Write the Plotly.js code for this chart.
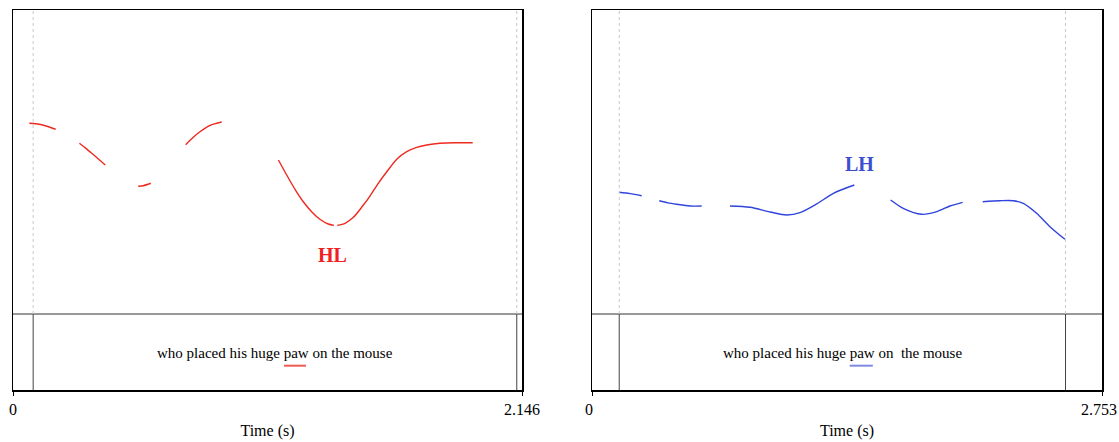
<!DOCTYPE html>
<html>
<head>
<meta charset="utf-8">
<script src="https://cdn.plot.ly/plotly-3.0.1.min.js"></script>
<style>html,body{margin:0;padding:0;background:#fff;}#chart{width:1119px;height:442px;}</style>
</head>
<body>
<div id="chart"></div>
<script>
// ---- Left utterance (HL), duration 2.146 s ----
const leftDuration = 2.146;
const leftBounds = [0.085, 2.124];
const leftSegT = [
  [0.069, 0.095, 0.121, 0.150, 0.180],
  [0.280, 0.305, 0.332, 0.360, 0.389],
  [0.528, 0.549, 0.581],
  [0.728, 0.760, 0.788, 0.831, 0.880],
  [1.119, 1.154, 1.189, 1.224, 1.259, 1.294, 1.329, 1.353],
  [1.367, 1.400, 1.435, 1.470, 1.505, 1.540, 1.576, 1.618, 1.660, 1.702, 1.744, 1.800, 1.871, 1.938]
];
const leftSegF = [
  [263.2, 262.7, 261.8, 259.8, 257.3],
  [243.5, 238.9, 233.6, 228.0, 222.0],
  [201.0, 201.6, 204.0],
  [242.1, 249.4, 254.9, 261.2, 264.5],
  [227.0, 212.2, 198.1, 185.8, 176.0, 168.5, 163.8, 162.5],
  [162.5, 164.5, 170.4, 180.3, 191.4, 204.0, 215.4, 227.7, 235.2, 239.5, 241.8, 243.5, 244.0, 244.0]
];
const leftLabel = "HL";
const leftLabelPos = [1.345, 133.5];
const leftSentence = "who placed his huge paw on the mouse";
const leftSentenceX = 1.105;
const leftUnderline = [1.143, 1.235];

// ---- Right utterance (LH), duration 2.753 s ----
const rightDuration = 2.753;
const rightBounds = [0.147, 2.556];
const rightSegT = [
  [0.147, 0.205, 0.268],
  [0.363, 0.410, 0.457, 0.529, 0.592],
  [0.745, 0.853, 0.961, 1.051, 1.123, 1.213, 1.303, 1.416],
  [1.612, 1.680, 1.780, 1.861, 1.932, 2.001],
  [2.109, 2.202, 2.274, 2.328, 2.400, 2.472, 2.553]
];
const rightSegF = [
  [195.1, 193.8, 191.7],
  [186.8, 184.7, 183.3, 181.6, 181.6],
  [181.6, 180.3, 175.7, 172.7, 175.0, 183.6, 194.1, 202.3],
  [187.5, 179.3, 173.4, 176.0, 181.6, 185.2],
  [185.8, 186.8, 186.8, 184.2, 174.4, 161.2, 148.7]
];
const rightLabel = "LH";
const rightLabelPos = [1.442, 223.0];
const rightSentence = "who placed his huge paw on&nbsp; the mouse";
const rightSentenceX = 1.350;
const rightUnderline = [1.391, 1.516];

const pitchRange = [0, 375];
const tierTop = 75;
const sentenceY = 36.8;
const underlineY = 24;

const RED = "#ee2a1f", BLUE = "#2f44dc";
const FONT = '"Liberation Serif", "Times New Roman", Times, serif';

const traces = [];
leftSegT.forEach((t, i) => traces.push({
  x: t, y: leftSegF[i], xaxis: "x", yaxis: "y", mode: "lines",
  line: {color: RED, width: 1.4, shape: "spline", smoothing: 0.8}, hoverinfo: "skip", showlegend: false
}));
rightSegT.forEach((t, i) => traces.push({
  x: t, y: rightSegF[i], xaxis: "x2", yaxis: "y2", mode: "lines",
  line: {color: BLUE, width: 1.4, shape: "spline", smoothing: 0.8}, hoverinfo: "skip", showlegend: false
}));

function panelShapes(xr, yr, dur, bounds, underline, ucolor) {
  const s = [];
  s.push({type: "line", xref: xr, yref: yr, x0: 0, x1: dur, y0: tierTop, y1: tierTop, line: {color: "#333", width: 1}});
  bounds.forEach(b => {
    s.push({type: "line", xref: xr, yref: yr, x0: b, x1: b, y0: tierTop, y1: pitchRange[1], line: {color: "#c8c8c8", width: 1, dash: "dot"}});
    s.push({type: "line", xref: xr, yref: yr, x0: b, x1: b, y0: 0, y1: tierTop, line: {color: "#444", width: 1}});
  });
  s.push({type: "line", xref: xr, yref: yr, x0: underline[0], x1: underline[1], y0: underlineY, y1: underlineY, line: {color: ucolor, width: 2}});
  return s;
}

const axisCommon = {
  showline: true, mirror: true, linecolor: "#000", linewidth: 1.5,
  showgrid: false, zeroline: false, ticks: "outside", ticklen: 4, tickcolor: "#000",
  ticklabeloverflow: "allow",
  tickfont: {family: FONT, size: 16, color: "#000"}
};

const layout = {
  width: 1119, height: 442, margin: {l: 0, r: 0, t: 0, b: 0},
  paper_bgcolor: "#fff", plot_bgcolor: "#fff",
  font: {family: FONT},
  xaxis: Object.assign({}, axisCommon, {domain: [13/1119, 522/1119], range: [0, leftDuration],
    tickvals: [0, leftDuration], ticktext: ["0", "2.146"],
    title: {text: "Time (s)", font: {family: FONT, size: 16, color: "#000"}, standoff: 8}}),
  yaxis: Object.assign({}, axisCommon, {domain: [1 - 390/442, 1 - 10/442], range: pitchRange, showticklabels: false, ticks: ""}),
  xaxis2: Object.assign({}, axisCommon, {domain: [592/1119, 1102/1119], range: [0, rightDuration], anchor: "y2",
    tickvals: [0, rightDuration], ticktext: ["0", "2.753"], ticklabelshift: -3,
    title: {text: "Time (s)", font: {family: FONT, size: 16, color: "#000"}, standoff: 8}}),
  yaxis2: Object.assign({}, axisCommon, {domain: [1 - 390/442, 1 - 10/442], range: pitchRange, anchor: "x2", showticklabels: false, ticks: ""}),
  shapes: panelShapes("x", "y", leftDuration, leftBounds, leftUnderline, "#ee5a55").concat(panelShapes("x2", "y2", rightDuration, rightBounds, rightUnderline, "#7f89e4")),
  annotations: [
    {xref: "x", yref: "y", x: leftLabelPos[0], y: leftLabelPos[1], text: "<b>" + leftLabel + "</b>", showarrow: false, font: {family: FONT, size: 20, color: "#f0201e"}},
    {xref: "x2", yref: "y2", x: rightLabelPos[0], y: rightLabelPos[1], text: "<b>" + rightLabel + "</b>", showarrow: false, font: {family: FONT, size: 20, color: "#3d4fd0"}},
    {xref: "x", yref: "y", x: leftSentenceX, y: sentenceY, text: leftSentence, showarrow: false, font: {family: FONT, size: 15, color: "#000"}},
    {xref: "x2", yref: "y2", x: rightSentenceX, y: sentenceY, text: rightSentence, showarrow: false, font: {family: FONT, size: 15, color: "#000"}}
  ]
};

Plotly.newPlot("chart", traces, layout, {staticPlot: true, displayModeBar: false});
</script>
</body>
</html>
